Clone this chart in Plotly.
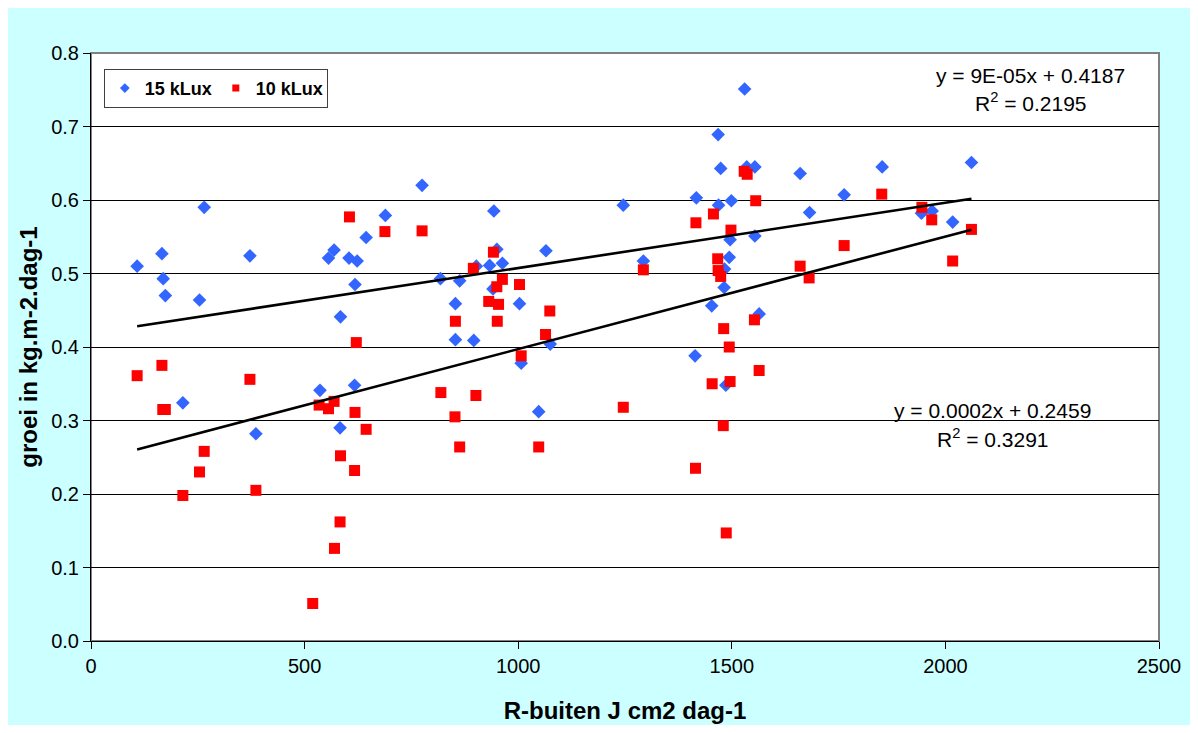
import numpy as np
import plotly.graph_objects as go

# 15 kLux series
x15 = [108, 166, 169, 174, 215, 254, 265, 372, 386, 536, 556, 569, 583, 584, 604, 617, 618, 623, 644, 689,
       775, 818, 853, 853, 863, 896, 902, 933, 941, 943, 950, 963, 1003, 1007, 1048, 1065, 1075, 1246, 1293,
       1414, 1417, 1453, 1468, 1469, 1474, 1482, 1483, 1486, 1494, 1496, 1499, 1530, 1535, 1554, 1554, 1564,
       1660, 1682, 1763, 1852, 1944, 1969, 2017, 2061]
y15 = [0.510, 0.527, 0.493, 0.470, 0.324, 0.464, 0.590, 0.524, 0.282, 0.341, 0.521, 0.532, 0.290, 0.441, 0.521,
       0.348, 0.485, 0.517, 0.549, 0.579, 0.620, 0.493, 0.459, 0.410, 0.490, 0.409, 0.510, 0.511, 0.479, 0.585,
       0.533, 0.514, 0.459, 0.378, 0.312, 0.531, 0.404, 0.593, 0.517, 0.388, 0.603, 0.456, 0.689, 0.593, 0.643,
       0.481, 0.506, 0.348, 0.522, 0.546, 0.599, 0.751, 0.645, 0.645, 0.551, 0.445, 0.636, 0.583, 0.607, 0.645,
       0.582, 0.585, 0.570, 0.651]

# 10 kLux series
x10 = [108, 166, 168, 174, 215, 254, 265, 372, 386, 519, 534, 556, 569, 570, 583, 584, 605, 617, 618, 621, 644,
       688, 775, 819, 852, 853, 863, 895, 901, 931, 942, 950, 951, 954, 963, 1003, 1007, 1048, 1064, 1074, 1246,
       1293, 1415, 1416, 1454, 1457, 1467, 1468, 1474, 1480, 1481, 1487, 1494, 1496, 1498, 1529, 1536, 1553,
       1556, 1564, 1660, 1681, 1763, 1851, 1945, 1968, 2017, 2061]
y10 = [0.361, 0.375, 0.315, 0.315, 0.198, 0.230, 0.258, 0.356, 0.205, 0.051, 0.321, 0.316, 0.326, 0.126, 0.162,
       0.252, 0.577, 0.232, 0.311, 0.406, 0.288, 0.557, 0.558, 0.338, 0.305, 0.435, 0.264, 0.507, 0.334, 0.462,
       0.529, 0.482, 0.435, 0.458, 0.492, 0.485, 0.388, 0.264, 0.417, 0.449, 0.318, 0.505, 0.235, 0.569, 0.350,
       0.581, 0.520, 0.504, 0.496, 0.293, 0.425, 0.147, 0.400, 0.353, 0.559, 0.639, 0.635, 0.437, 0.599, 0.368,
       0.510, 0.494, 0.538, 0.608, 0.590, 0.573, 0.517, 0.560]

series_names = ["15 kLux", "10 kLux"]
eq15 = ["y = 9E-05x + 0.4187", "R<sup>2</sup> = 0.2195"]
eq10 = ["y = 0.0002x + 0.2459", "R<sup>2</sup> = 0.3291"]
x_ticks = [0, 500, 1000, 1500, 2000, 2500]

FONT = "Liberation Sans, Arial, sans-serif"
BLUE = "#3366FF"
RED = "#FF0000"

fig = go.Figure()
fig.add_trace(go.Scatter(x=x15, y=y15, mode="markers", name=series_names[0], showlegend=False,
                         marker=dict(symbol="diamond", color=BLUE, size=10.5)))
fig.add_trace(go.Scatter(x=x10, y=y10, mode="markers", name=series_names[1], showlegend=False,
                         marker=dict(symbol="square", color=RED, size=11)))

for xs, ys in ((x15, y15), (x10, y10)):
    a, b = np.polyfit(xs, ys, 1)
    xl = np.array([min(xs), max(xs)])
    fig.add_trace(go.Scatter(x=xl, y=a * xl + b, mode="lines", showlegend=False,
                             line=dict(color="black", width=2.6), hoverinfo="skip"))

# legend entries (smaller symbols like the reference legend)
fig.add_trace(go.Scatter(x=[None], y=[None], mode="markers", name=series_names[0],
                         marker=dict(symbol="diamond", color=BLUE, size=7.5)))
fig.add_trace(go.Scatter(x=[None], y=[None], mode="markers", name=series_names[1],
                         marker=dict(symbol="square", color=RED, size=7)))

ann_font = dict(size=21, color="black", family=FONT)
fig.add_annotation(x=2200, y=0.770, xref="x", yref="y", text=eq15[0], showarrow=False, font=ann_font)
fig.add_annotation(x=2200, y=0.733, xref="x", yref="y", text=eq15[1], showarrow=False, font=ann_font)
fig.add_annotation(x=2111, y=0.313, xref="x", yref="y", text=eq10[0], showarrow=False, font=ann_font)
fig.add_annotation(x=2111, y=0.276, xref="x", yref="y", text=eq10[1], showarrow=False, font=ann_font)

fig.update_layout(
    width=1182, height=717,
    margin=dict(l=83, r=31, t=45, b=84, autoexpand=False),
    paper_bgcolor="#CCFFFF",
    plot_bgcolor="white",
    font=dict(family=FONT, size=20, color="black"),
    showlegend=True,
    legend=dict(x=0.012, y=0.973, xanchor="left", yanchor="top", orientation="h",
                bgcolor="white", bordercolor="#404040", borderwidth=1,
                font=dict(size=18, family=FONT, color="black", weight="bold"),
                itemwidth=30, tracegroupgap=0, itemsizing="trace",
                entrywidth=66, entrywidthmode="pixels"),
    xaxis=dict(range=[0, 2500], tickvals=x_ticks, showgrid=False, automargin=False,
               showline=True, linecolor="black", linewidth=1, mirror=False,
               ticks="outside", ticklen=7, tickcolor="black", zeroline=False,
               tickfont=dict(size=20),
               title=dict(text="<b>R-buiten J cm2 dag-1</b>", font=dict(size=24), standoff=26)),
    yaxis=dict(range=[0, 0.8], dtick=0.1, tickformat=".1f", showgrid=True, gridcolor="black", gridwidth=1,
               automargin=False,
               showline=True, linecolor="black", linewidth=1, ticks="outside", ticklen=7,
               tickcolor="black", zeroline=False, tickfont=dict(size=20),
               title=dict(text="<b>groei in kg.m-2.dag-1</b>", font=dict(size=24), standoff=6)),
)
# gray frame on top/right of plot area
fig.add_shape(type="rect", xref="paper", yref="paper", x0=0, y0=0, x1=1, y1=1,
              line=dict(color="#808080", width=2), layer="below")

fig.write_html("out.html")
